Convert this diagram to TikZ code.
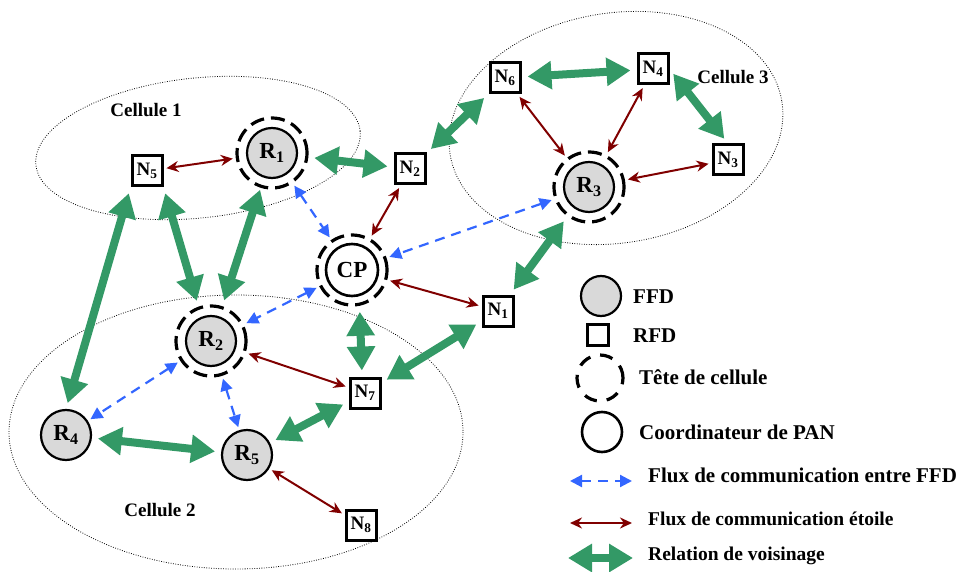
\documentclass[tikz,border=0pt]{standalone}
\usepackage{fontspec}
\setmainfont{Liberation Serif}
\usetikzlibrary{arrows.meta}
\definecolor{linkGreen}{HTML}{339966}
\definecolor{starRed}{HTML}{800000}
\definecolor{ffdBlue}{HTML}{3366FF}
\definecolor{ffdGray}{HTML}{D9D9D9}
\begin{document}
\begin{tikzpicture}[x=1pt, y=-1pt,
  ffdNode/.style={circle, draw, line width=2.2pt, fill=ffdGray, minimum size=50pt, inner sep=0pt, font=\fontsize{23}{25}\selectfont\bfseries},
  rfdNode/.style={rectangle, draw, line width=3pt, fill=white, minimum size=30pt, inner sep=0pt, font=\fontsize{19}{21}\selectfont\bfseries},
  cpNode/.style={circle, draw, line width=2.6pt, fill=white, minimum size=52pt, inner sep=0pt, font=\fontsize{23}{25}\selectfont\bfseries},
  headRing/.style={circle, draw, line width=3.2pt, dash pattern=on 14pt off 7pt, minimum size=70pt, inner sep=0pt},
  cellArea/.style={draw, line width=0.8pt, dash pattern=on 0.8pt off 1.6pt},
  cellLabel/.style={inner sep=0pt, font=\fontsize{19}{21}\selectfont\bfseries},
  legendText/.style={anchor=west, inner sep=0pt, font=\fontsize{21}{23}\selectfont\bfseries},
  flowText/.style={anchor=west, inner sep=0pt, font=\fontsize{19.5}{22}\selectfont\bfseries},
  ffdFlow/.style={draw=ffdBlue, line width=2.2pt, dash pattern=on 10pt off 7pt, {Triangle[length=12pt,width=12pt]}-{Triangle[length=12pt,width=12pt]}, shorten <=3pt, shorten >=3pt},
  starFlow/.style={draw=starRed, line width=2pt, {Stealth[length=12pt,width=11pt]}-{Stealth[length=12pt,width=11pt]}, shorten <=3pt, shorten >=3pt},
  neighbourLink/.style={draw=linkGreen, line width=8pt, {Triangle[length=24pt,width=27pt]}-{Triangle[length=24pt,width=27pt]}, shorten <=6pt, shorten >=6pt}
]
\useasboundingbox (0,0) rectangle (969,572);

\draw[cellArea, rotate around={6:(198,148)}] (198,148) ellipse[x radius=163, y radius=70];
\draw[cellArea] (236,432) ellipse[x radius=227, y radius=137];
\draw[cellArea, rotate around={9:(616,128)}] (616,128) ellipse[x radius=168, y radius=115];
\node[cellLabel] (cell1) at (146,110) {Cellule 1};
\node[cellLabel] (cell2) at (160,510) {Cellule 2};
\node[cellLabel] (cell3) at (733,77) {Cellule 3};

\node[ffdNode] (R1) at (272,153) {R\textsubscript{1}};
\node[ffdNode] (R2) at (211,341) {R\textsubscript{2}};
\node[ffdNode] (R3) at (589,187) {R\textsubscript{3}};
\node[ffdNode] (R4) at (66,435) {R\textsubscript{4}};
\node[ffdNode] (R5) at (247,455) {R\textsubscript{5}};
\node[cpNode] (CP) at (352,270) {CP};
\node[headRing] (R1r) at (R1) {};
\node[headRing] (R2r) at (R2) {};
\node[headRing] (R3r) at (R3) {};
\node[headRing] (CPr) at (CP) {};

\node[rfdNode] (N1) at (498,311) {N\textsubscript{1}};
\node[rfdNode] (N2) at (410,169) {N\textsubscript{2}};
\node[rfdNode] (N3) at (728,160) {N\textsubscript{3}};
\node[rfdNode] (N4) at (653,69) {N\textsubscript{4}};
\node[rfdNode] (N5) at (147,171) {N\textsubscript{5}};
\node[rfdNode] (N6) at (505,78) {N\textsubscript{6}};
\node[rfdNode] (N7) at (365,393) {N\textsubscript{7}};
\node[rfdNode] (N8) at (361,525) {N\textsubscript{8}};

\draw[neighbourLink] (R1r) -- (N2);
\draw[neighbourLink] (N2) -- (N6);
\draw[neighbourLink] (N6) -- (N4);
\draw[neighbourLink] (N4.east) -- (N3.north);
\draw[neighbourLink] (R3r) -- (N1);
\draw[neighbourLink] (N5.south west) -- (R4.north);
\draw[neighbourLink] (N5.south east) -- (R2r.110);
\draw[neighbourLink, shorten <=2pt] (R1r) -- (R2r);
\draw[neighbourLink] (CPr.-78) -- (N7.100);
\draw[neighbourLink] (N1) -- (N7);
\draw[neighbourLink] (R4) -- (R5);
\draw[neighbourLink] (N7) -- (R5);

\draw[starFlow] (N5) -- (R1r);
\draw[starFlow] (N2) -- (CPr);
\draw[starFlow] (CPr) -- (N1);
\draw[starFlow] (N6) -- (R3r);
\draw[starFlow] (N4) -- (R3r);
\draw[starFlow] (N3) -- (R3r);
\draw[starFlow] (R2r) -- (N7);
\draw[starFlow] (R5) -- (N8);

\draw[ffdFlow] (R1r) -- (CPr);
\draw[ffdFlow] (R3r) -- (CPr);
\draw[ffdFlow] (CPr) -- (R2r);
\draw[ffdFlow] (R2r) -- (R4);
\draw[ffdFlow] (R2r) -- (R5);

\node[ffdNode, minimum size=40pt] (legFfd) at (601,296) {};
\node[legendText] (txtFfd) at (633,297) {FFD};
\node[rfdNode, minimum size=21pt] (legRfd) at (598,335) {};
\node[legendText] (txtRfd) at (633,336) {RFD};
\node[headRing, minimum size=46pt, dash pattern=on 13pt off 10pt] (legHead) at (600,378) {};
\node[legendText] (txtHead) at (639,377) {Tête de cellule};
\node[cpNode, minimum size=40pt] (legCp) at (602,432) {};
\node[legendText] (txtCp) at (639,432) {Coordinateur de PAN};
\coordinate (blueA) at (570,481);
\coordinate (blueB) at (632,481);
\draw[ffdFlow, shorten <=0pt, shorten >=0pt] (blueA) -- (blueB);
\node[legendText] (txtBlue) at (648,475) {Flux de communication entre FFD};
\coordinate (redA) at (570,523);
\coordinate (redB) at (632,523);
\draw[starFlow, shorten <=0pt, shorten >=0pt] (redA) -- (redB);
\node[flowText] (txtRed) at (648,519) {Flux de communication étoile};
\coordinate (greenA) at (568,558);
\coordinate (greenB) at (633,558);
\draw[neighbourLink, shorten <=0pt, shorten >=0pt] (greenA) -- (greenB);
\node[flowText] (txtGreen) at (648,556) {Relation de voisinage};
\end{tikzpicture}
\end{document}
